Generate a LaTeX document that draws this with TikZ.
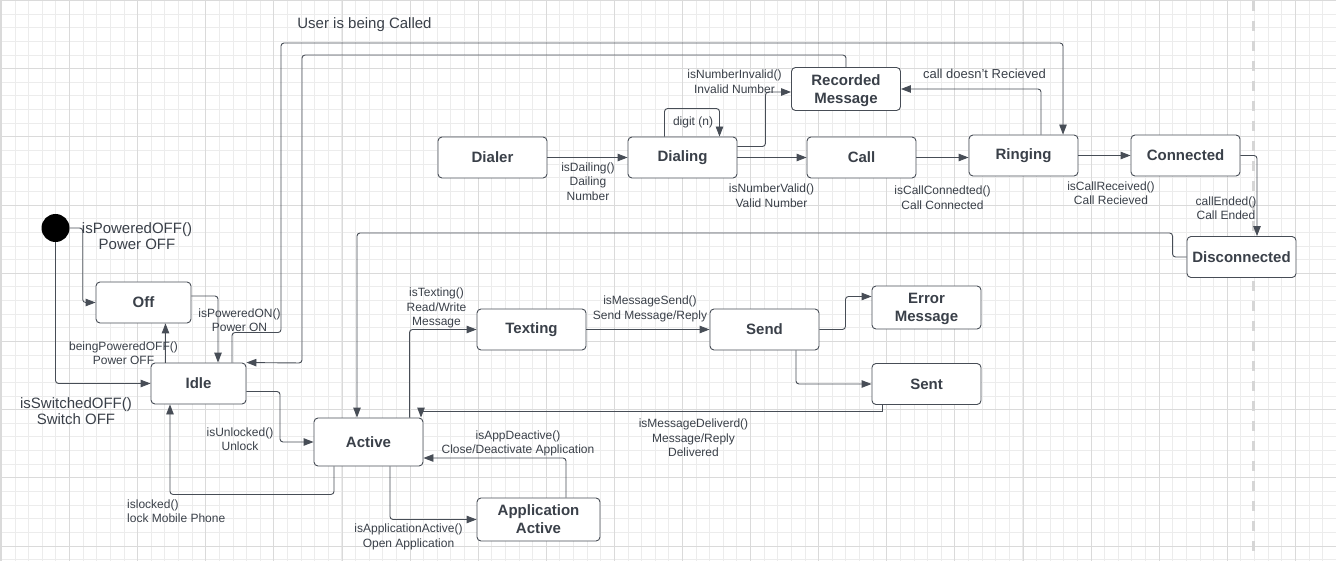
\documentclass[tikz,border=0pt]{standalone}
\usepackage{fontspec}
\setmainfont{Liberation Sans}
\usetikzlibrary{arrows.meta}
\definecolor{linec}{HTML}{474D56}
\definecolor{txtc}{HTML}{3A4049}
\definecolor{gridminor}{HTML}{ECECEC}
\definecolor{gridmajor}{HTML}{DADADA}
\definecolor{dashc}{HTML}{D6D6D6}
\begin{document}
\begin{tikzpicture}[x=1pt,y=-1pt,
  stnode/.style={draw=linec, line width=0.9pt, rounded corners=4pt, fill=white, text=txtc,
    font=\fontsize{15}{18}\selectfont\bfseries, align=center, inner sep=0pt,
    minimum width=109pt, minimum height=41pt},
  lbl/.style={text=txtc, font=\fontsize{12}{14.5}\selectfont, align=center, inner sep=0pt},
  biglbl/.style={text=txtc, font=\fontsize{15}{16}\selectfont, align=center, inner sep=0pt},
  midlbl/.style={text=txtc, font=\fontsize{13}{15}\selectfont, align=center, inner sep=0pt},
  arr/.style={draw=linec, line width=0.9pt, rounded corners=3pt, -{Triangle[length=10pt,width=7.5pt]}},
  gminor/.style={draw=gridminor, line width=1pt},
  gmajor/.style={draw=gridmajor, line width=1pt},
]
\useasboundingbox (0,0) rectangle (1336,561);
\fill[white] (0,0) rectangle (1336,561);
% grid
\foreach \i in {0,...,98} {\draw[gminor] ({round(1+13.62*\i)+0.5},0) -- ++(0,561);}
\foreach \j in {0,...,41} {\draw[gminor] (0,{round(13.64*\j)+0.5}) -- ++(1336,0);}
\foreach \i in {0,...,19} {\draw[gmajor] ({round(1+68.1*\i)+0.5},0) -- ++(0,561);}
\foreach \j in {0,...,8} {\draw[gmajor] (0,{round(68.2*\j)+0.5}) -- ++(1336,0);}
\draw[gmajor, line width=2pt] (1,0) -- (1,561);
\draw[gmajor, line width=1.5pt] (0,0.75) -- (1336,0.75);
\draw[dashc, line width=3pt, dash pattern=on 10pt off 10pt] (1253,1) -- (1253,561);

% states
\node[circle, fill=black, minimum size=28pt, inner sep=0pt] (start) at (55.5,228) {};
\node[stnode, minimum width=95pt] (off) at (143.5,302.5) {Off};
\node[stnode, minimum width=95pt] (idle) at (198.5,383.5) {Idle};
\node[stnode, minimum height=48pt] (active) at (368.5,442) {Active};
\node[stnode, minimum width=123pt, minimum height=43pt, text depth=0pt] (app) at (538.5,519.5) {Application\\Active};
\node[stnode] (texting) at (531.5,329.5) {Texting};
\node[stnode] (send) at (764.5,329.5) {Send};
\node[stnode, minimum height=43pt, text depth=0pt] (error) at (926.5,307.5) {Error\\Message};
\node[stnode] (sent) at (926.5,384) {Sent};
\node[stnode] (dialer) at (492.5,157.5) {Dialer};
\node[stnode] (dialing) at (682.5,157.5) {Dialing};
\node[stnode] (call) at (861.5,157.5) {Call};
\node[stnode] (ringing) at (1023.5,155.5) {Ringing};
\node[stnode] (connected) at (1185.5,155.5) {Connected};
\node[stnode] (disc) at (1241.5,257) {Disconnected};
\node[stnode, minimum height=43pt, text depth=0pt] (rec) at (846,89) {Recorded\\Message};

% connectors
\draw[arr] (start.east) -- ++(13,0) |- (off.west);
\draw[arr] (start.south) |- (idle.west);
\draw[arr] ([yshift=6.5pt]off.east) -| ([xshift=19.5pt]idle.north);
\draw[arr] ([xshift=-33pt]idle.north) -- ([xshift=-33pt]idle.north |- off.south);
\draw[arr] ([yshift=-8pt]idle.east) -- (280,391.5) |- (active.west);
\draw[arr] ([xshift=-34.5pt]active.south) -- ++(0,28) -| ([xshift=-28.5pt]idle.south);
\draw[arr] ([xshift=21.5pt]active.south) |- (app.west);
\draw[arr] ([xshift=27.5pt]app.north) |- ([yshift=-16pt]active.east);
\draw[arr] ([xshift=41pt]active.north) |- (texting.west);
\draw[arr] (texting.east) -- (send.west);
\draw[arr] (send.east) -- ++(26,0) |- ([yshift=11pt]error.west);
\draw[arr] ([xshift=31.5pt]send.south) |- (sent.west);
\draw[arr, rounded corners=0pt] ([xshift=-44.5pt]sent.south) -- ++(0,6.5) -| ([xshift=52.5pt]active.north);
\draw[arr] (dialer.east) -- (dialing.west);
\draw[arr] ([xshift=-18pt]dialing.north) -- ++(0,-28) -| ([xshift=37pt]dialing.north);
\draw[arr] ([yshift=11pt]dialing.east) -- ++(28,0) |- ([yshift=-3pt]rec.west);
\draw[arr] (dialing.east) -- (call.west);
\draw[arr] (call.east) -- (call.east -| ringing.west);
\draw[arr] ([xshift=17.5pt]ringing.north) |- (rec.east);
\draw[arr] (ringing.east) -- (connected.west);
\draw[arr] (connected.east) -| ([xshift=15.5pt]disc.north);
\draw[arr] (disc.west) -- ++(-14,0) -- ++(0,-24) -| ([xshift=-11.5pt]active.north);
\draw[arr] (rec.north) -- ++(0,-12) -| (302,363) -- (idle.north east);
\draw[arr] ([xshift=33.5pt]idle.north) -- ++(0,-30) -| (281,43) -| ([xshift=39.5pt]ringing.north);

% labels
\node[biglbl] (l1) at (137,236) {isPoweredOFF()\\Power OFF};
\node[biglbl] (l2) at (76,411) {isSwitchedOFF()\\Switch OFF};
\node[lbl] (l3) at (239.5,320) {isPoweredON()\\Power ON};
\node[lbl] (l4) at (123.5,353) {beingPoweredOFF()\\Power OFF};
\node[lbl] (l5) at (240,439) {isUnlocked()\\Unlock};
\node[lbl, anchor=west, align=left] (l6) at (127,511) {islocked()\\lock Mobile Phone};
\node[lbl] (l7) at (408.5,537) {isApplicationActive()\\Open Application};
\node[lbl] (l8) at (518,443.5) {isAppDeactive()\\Close/Deactivate Application};
\node[lbl] (l9) at (436.5,308) {isTexting()\\Read/Write\\Message};
\node[lbl] (l10) at (650,309) {isMessageSend()\\Send Message/Reply};
\node[lbl] (l11) at (693.5,438) {isMessageDeliverd()\\Message/Reply\\Delivered};
\node[lbl] (l12) at (588,181.5) {isDailing()\\Dailing\\Number};
\node[lbl] (l13) at (693,122) {digit (n)};
\node[lbl] (l14) at (734.5,81.5) {isNumberInvalid()\\Invalid Number};
\node[lbl] (l15) at (771.5,195.5) {isNumberValid()\\Valid Number};
\node[lbl] (l16) at (942.5,197.5) {isCallConnedted()\\Call Connected};
\node[midlbl] (l17) at (984.5,74) {call doesn't Recieved};
\node[lbl] (l18) at (1111,193) {isCallReceived()\\Call Recieved};
\node[lbl] (l19) at (1226,208) {callEnded()\\Call Ended};
\node[biglbl] (l20) at (364.5,25) {User is being Called};
\end{tikzpicture}
\end{document}
